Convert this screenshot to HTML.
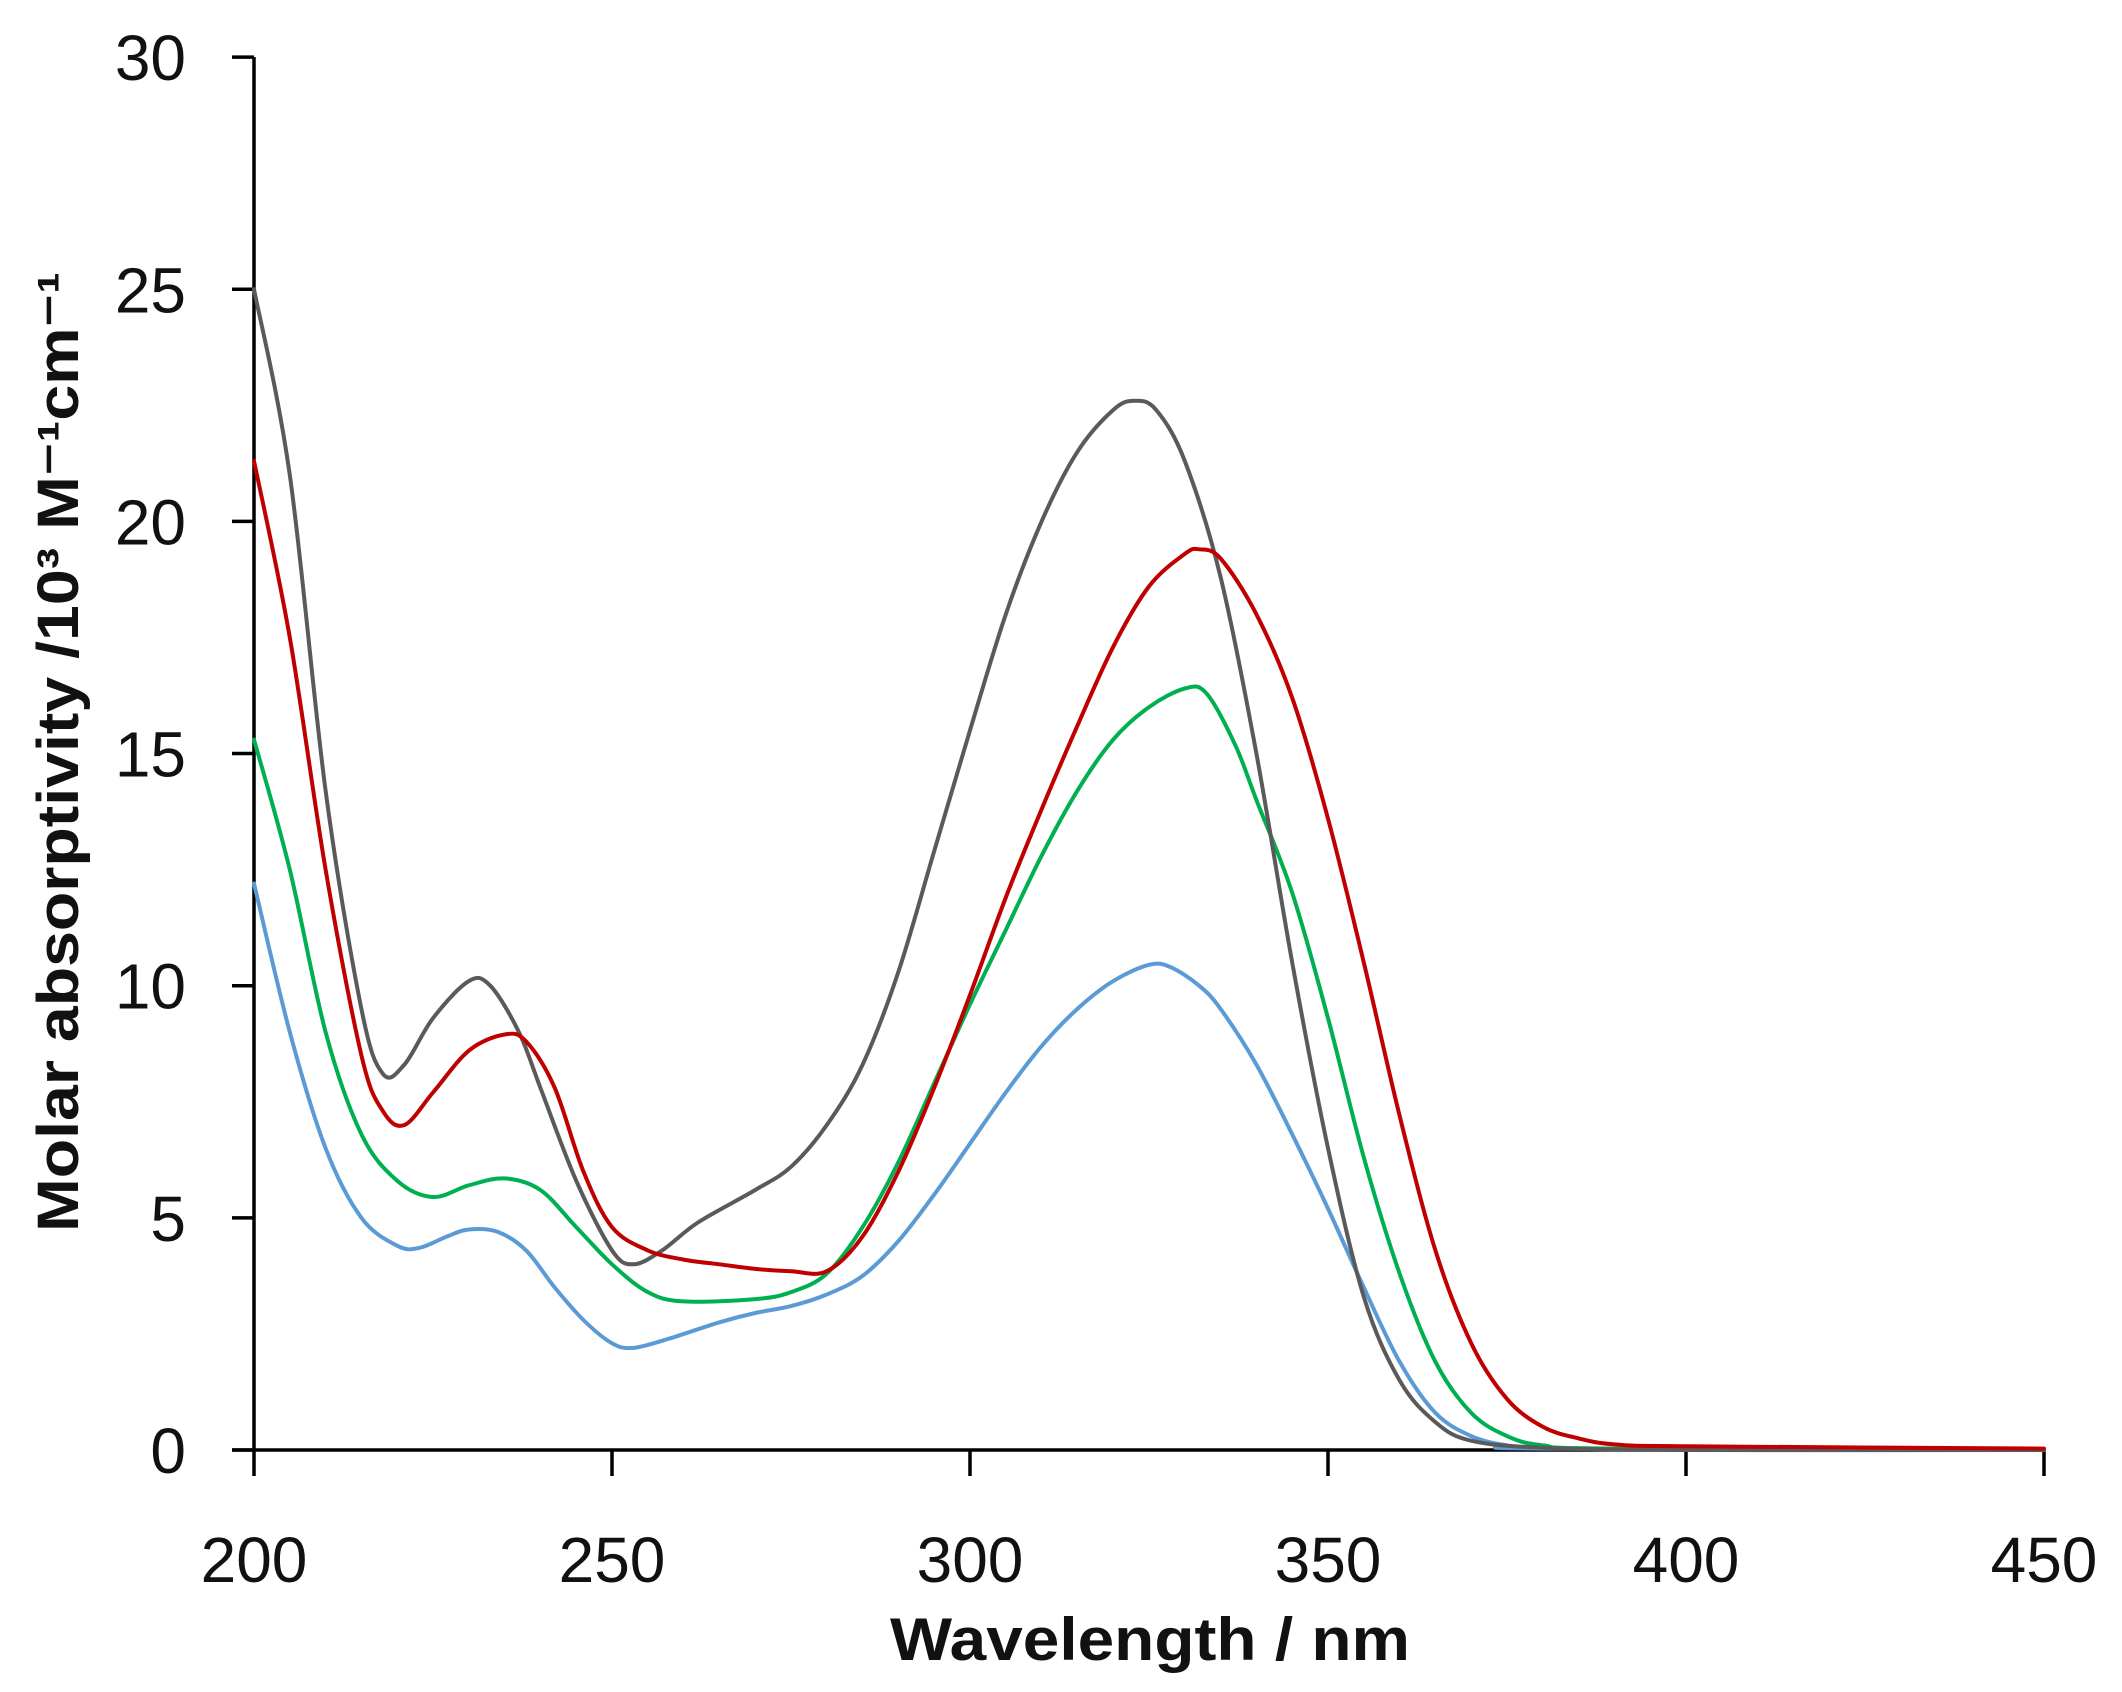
<!DOCTYPE html>
<html><head><meta charset="utf-8"><style>
html,body{margin:0;padding:0;background:#fff;}
svg{display:block;font-family:"Liberation Sans",sans-serif;}
</style></head><body>
<svg id="s" width="2122" height="1692" viewBox="0 0 2122 1692" xmlns="http://www.w3.org/2000/svg">
<rect width="2122" height="1692" fill="#fff"/>
<g id="ax" stroke="#000" stroke-width="3.5" fill="none"></g>
<g id="lbl" font-size="64" fill="#111"></g>
<g id="curves" fill="none" stroke-width="4" stroke-linejoin="round" stroke-linecap="round"></g>
<text x="1150" y="1660" font-size="60" font-weight="bold" text-anchor="middle" fill="#111" textLength="520" lengthAdjust="spacingAndGlyphs">Wavelength / nm</text>
<text transform="translate(78 752) rotate(-90)" font-size="58" font-weight="bold" text-anchor="middle" fill="#111" textLength="960" lengthAdjust="spacingAndGlyphs">Molar absorptivity /10³ M⁻¹cm⁻¹</text>
</svg>
<script>
const NS="http://www.w3.org/2000/svg";
const X=l=>254+(l-200)*7.16, Y=e=>1450-e*46.43;
const ax=document.getElementById('ax'), lb=document.getElementById('lbl');
function el(p,t,a){const e=document.createElementNS(NS,t);for(const k in a)e.setAttribute(k,a[k]);p.appendChild(e);return e;}
el(ax,'line',{x1:254,y1:57,x2:254,y2:1450});
el(ax,'line',{x1:232,y1:1450,x2:2045,y2:1450});
for(let v=0;v<=30;v+=5){const y=Y(v);el(ax,'line',{x1:232,y1:y,x2:254,y2:y});
 const t=el(lb,'text',{x:186,y:y+23,'text-anchor':'end'});t.textContent=v;}
for(let l=200;l<=450;l+=50){const x=X(l);el(ax,'line',{x1:x,y1:1450,x2:x,y2:1476});
 const t=el(lb,'text',{x:x,y:1582,'text-anchor':'middle'});t.textContent=l;}
const D={
"#5a5a5a":[[200,25],[205,21],[210,14.2],[215,9.5],[218,8.1],[221,8.3],[225,9.3],[230,10.1],[233,10],[237,9],[240,7.8],[245,5.8],[250,4.3],[253,4],[257,4.3],[262,4.9],[270,5.6],[275,6.1],[280,7],[285,8.3],[290,10.3],[295,12.9],[300,15.5],[305,18],[310,20],[315,21.5],[320,22.4],[323,22.6],[326,22.4],[330,21.3],[335,18.8],[340,15],[345,10.5],[350,6.5],[355,3.3],[360,1.5],[365,0.6],[370,0.2],[380,0.05],[400,0],[450,0]],
"#c00000":[[200,21.3],[205,17.5],[210,12.5],[215,8.5],[218,7.3],[221,7],[225,7.7],[230,8.6],[235,8.95],[238,8.8],[242,7.8],[246,6],[250,4.8],[255,4.3],[260,4.1],[265,4],[270,3.9],[275,3.85],[280,3.85],[285,4.6],[290,6],[295,7.8],[300,9.8],[305,11.9],[310,13.8],[315,15.6],[320,17.3],[325,18.6],[330,19.3],[332,19.4],[335,19.2],[340,18],[345,16.2],[350,13.6],[355,10.5],[360,7.2],[365,4.3],[370,2.3],[375,1.1],[380,0.5],[385,0.25],[390,0.12],[400,0.08],[450,0.03]],
"#00b050":[[200,15.3],[205,12.5],[210,9],[215,6.8],[220,5.8],[225,5.45],[230,5.7],[235,5.85],[240,5.6],[245,4.8],[250,4],[255,3.4],[260,3.2],[270,3.25],[275,3.4],[280,3.8],[285,4.8],[290,6.2],[295,7.9],[300,9.6],[305,11.2],[310,12.8],[315,14.2],[320,15.3],[325,16],[330,16.4],[333,16.3],[337,15.2],[340,14],[345,12],[350,9.3],[355,6.3],[360,3.8],[365,1.9],[370,0.8],[375,0.3],[380,0.1],[390,0.03],[450,0]],
"#5b9bd5":[[200,12.2],[205,9],[210,6.5],[215,5],[220,4.4],[223,4.35],[227,4.6],[230,4.75],[234,4.7],[238,4.3],[242,3.5],[246,2.8],[250,2.3],[253,2.2],[258,2.4],[265,2.75],[270,2.95],[275,3.1],[280,3.35],[285,3.75],[290,4.5],[295,5.5],[300,6.6],[305,7.7],[310,8.7],[315,9.5],[320,10.1],[325,10.45],[328,10.4],[332,10],[335,9.5],[340,8.3],[345,6.8],[350,5.2],[355,3.5],[360,1.9],[365,0.8],[370,0.3],[375,0.1],[380,0.03],[450,0]]};
const cg=document.getElementById('curves');
for(const c of ["#5b9bd5","#00b050","#5a5a5a","#c00000"]){
 const p=D[c].map(([l,e])=>[X(l),Y(e)]);
 let d="M"+p[0][0]+","+p[0][1];
 for(let i=0;i<p.length-1;i++){const p0=p[Math.max(0,i-1)],p1=p[i],p2=p[i+1],p3=p[Math.min(p.length-1,i+2)];
  const c1=[p1[0]+(p2[0]-p0[0])/6,p1[1]+(p2[1]-p0[1])/6],c2=[p2[0]-(p3[0]-p1[0])/6,p2[1]-(p3[1]-p1[1])/6];
  d+=`C${c1[0].toFixed(1)},${c1[1].toFixed(1)} ${c2[0].toFixed(1)},${c2[1].toFixed(1)} ${p2[0].toFixed(1)},${p2[1].toFixed(1)}`;}
 el(cg,'path',{d:d,stroke:c});
}
</script>
</body></html>
